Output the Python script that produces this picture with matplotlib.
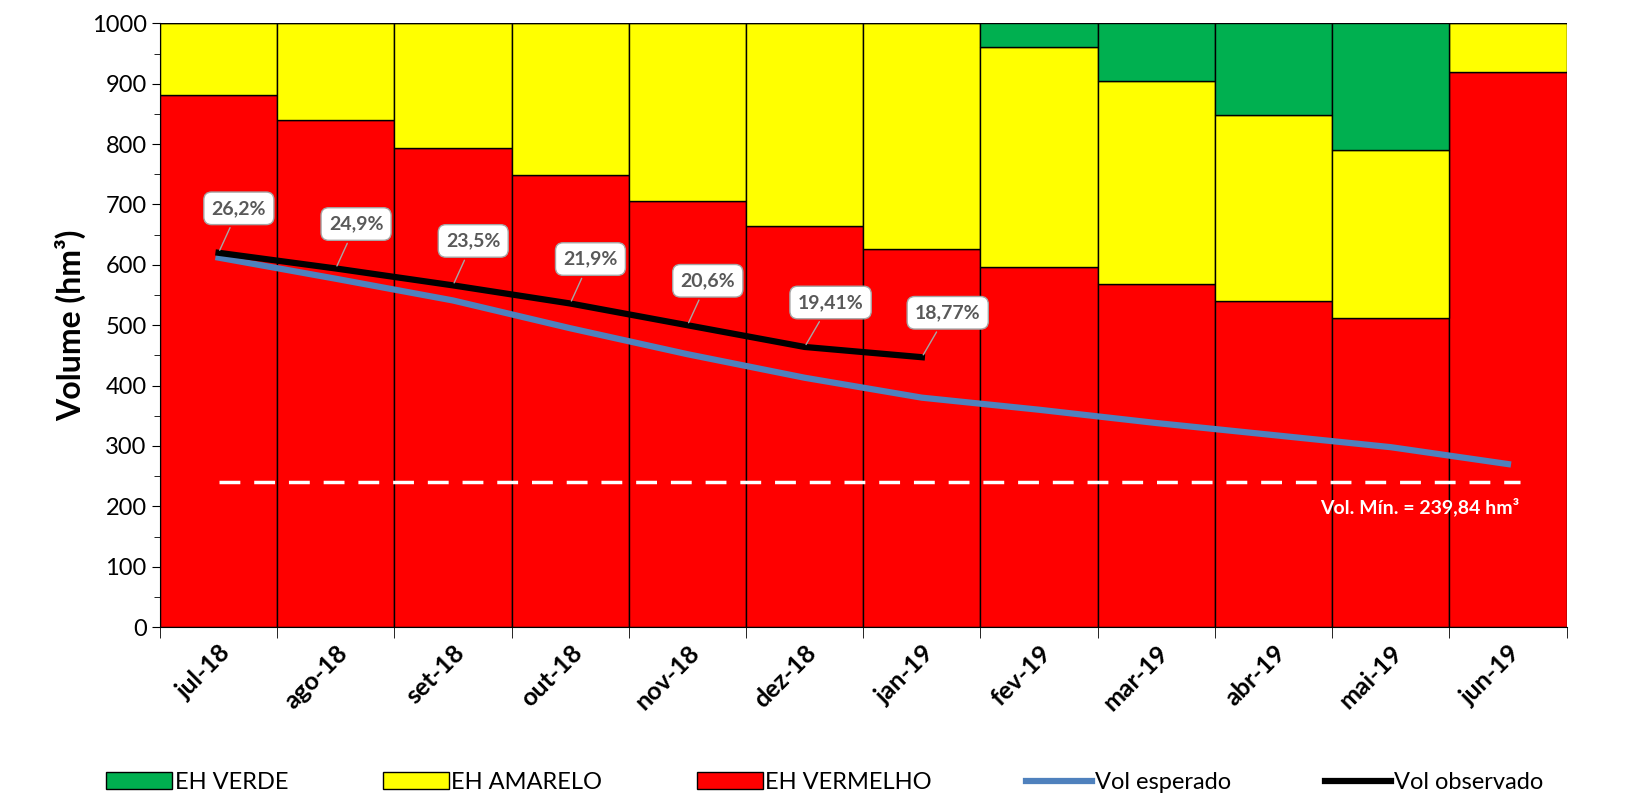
import matplotlib.pyplot as plt
import numpy as np

plt.rcParams['font.family'] = ['Lato', 'DejaVu Sans']

meses = ["jul-18", "ago-18", "set-18", "out-18", "nov-18", "dez-18", "jan-19",
         "fev-19", "mar-19", "abr-19", "mai-19", "jun-19"]
vermelho = [882, 840, 793, 749, 705, 665, 627, 596, 568, 540, 512, 920]
amarelo_topo = [1000, 1000, 1000, 1000, 1000, 1000, 1000, 961, 905, 848, 791, 1000]
verde_topo = [1000] * 12
vol_esperado = [612, 577, 541, 495, 452, 413, 380, 360, 338, 318, 298, 270]
vol_observado = [620, 594, 566, 536, 500, 464, 447]
rotulos = ["26,2%", "24,9%", "23,5%", "21,9%", "20,6%", "19,41%", "18,77%"]
vol_min = 239.84

x = np.arange(len(meses))
verm = np.array(vermelho)
amar = np.array(amarelo_topo) - verm
verd = np.array(verde_topo) - np.array(amarelo_topo)

fig = plt.figure(figsize=(16.49, 8.06), dpi=100)
ax = fig.add_axes([0.097, 0.222, 0.853, 0.749])

ax.bar(x, verm, width=1, color="#ff0000", edgecolor="black", linewidth=1, label="EH VERMELHO", zorder=1)
ax.bar(x, amar, bottom=verm, width=1, color="#ffff00", edgecolor="black", linewidth=1, label="EH AMARELO", zorder=1)
ax.bar(x, verd, bottom=amarelo_topo, width=1, color="#00b050", edgecolor="black", linewidth=1, label="EH VERDE", zorder=1)

ax.plot(x, vol_esperado, color="#4f81bd", linewidth=4.5, label="Vol esperado", zorder=3)
ax.plot(x[:len(vol_observado)], vol_observado, color="black", linewidth=4.5, label="Vol observado", zorder=3)

ax.plot([x[0], x[-1] + 0.1], [vol_min, vol_min], color="white", linestyle="--", linewidth=2.5, dashes=(6, 4), zorder=2)
ax.text(x[-1] + 0.1, vol_min - 25, "Vol. Mín. = 239,84 hm³", color="white", fontweight="bold",
        fontsize=14, ha="right", va="top")

for i, (v, r) in enumerate(zip(vol_observado, rotulos)):
    ax.annotate(r, xy=(x[i], v), xytext=(-5, 32), textcoords="offset points",
                fontsize=14, fontweight="bold", color="#595959", ha="left", va="center",
                bbox=dict(boxstyle="round,pad=0.4", fc="white", ec="#a6a6a6"),
                arrowprops=dict(arrowstyle="-", color="#a6a6a6"), zorder=5)

ax.set_xlim(-0.5, 11.5)
ax.set_ylim(0, 1000)
ax.set_yticks(range(0, 1001, 100))
ax.set_yticks(range(0, 1001, 50), minor=True)
ax.tick_params(axis="y", labelsize=17, direction="out", length=6)
ax.tick_params(axis="y", which="minor", length=4)
ax.set_xticks(x)
ax.set_xticklabels(meses, rotation=45, ha="right", rotation_mode="anchor", fontsize=18, fontweight="bold")
ax.set_xticks(np.arange(-0.5, 12, 1), minor=True)
ax.tick_params(axis="x", which="major", length=0, pad=10)
ax.tick_params(axis="x", which="minor", length=8)
ax.set_ylabel("Volume (hm³)", fontsize=23, fontweight="bold")
for s in ["top", "right"]:
    ax.spines[s].set_visible(False)

h, l = ax.get_legend_handles_labels()
ordem = ["EH VERDE", "EH AMARELO", "EH VERMELHO", "Vol esperado", "Vol observado"]
hd = dict(zip(l, h))
fig.legend([hd[k] for k in ordem], ordem, loc="lower center", ncol=5, frameon=False,
           fontsize=17, bbox_to_anchor=(0.5, -0.01), columnspacing=4.0, handlelength=2.8,
           handletextpad=0.1)

fig.savefig("out.png", dpi=100)
